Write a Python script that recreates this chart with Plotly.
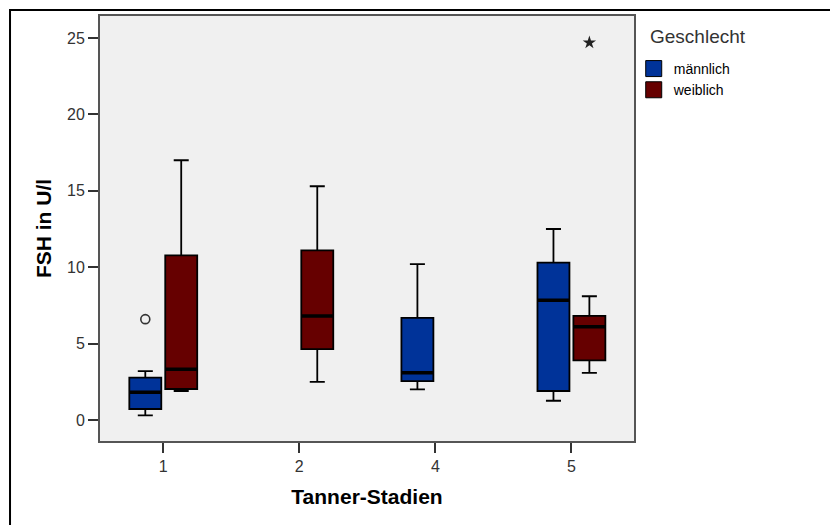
import plotly.graph_objects as go

# ---------------- data ----------------
stages = ["1", "2", "4", "5"]
sex_labels = ["männlich", "weiblich"]
legend_title = "Geschlecht"
x_title = "Tanner-Stadien"
y_title = "FSH in U/l"
y_ticks = [0, 5, 10, 15, 20, 25]

male_x = ["1", "4", "5"]
male_lower = [0.30, 2.00, 1.26]
male_q1 = [0.72, 2.55, 1.90]
male_median = [1.81, 3.09, 7.84]
male_q3 = [2.77, 6.69, 10.30]
male_upper = [3.20, 10.20, 12.50]

female_x = ["1", "2", "5"]
female_lower = [1.90, 2.50, 3.09]
female_q1 = [2.03, 4.64, 3.90]
female_median = [3.33, 6.80, 6.10]
female_q3 = [10.78, 11.10, 6.82]
female_upper = [17.00, 15.30, 8.10]

male_outlier_x = ["1"]
male_outlier_y = [6.6]
female_extreme_x = ["5"]
female_extreme_y = [24.7]

# ---------------- style ----------------
male_color = "#003399"
female_color = "#660000"
FONT = "Liberation Sans, Arial, sans-serif"
BOXGAP = 0.472
BOXGROUPGAP = 0.11
XRANGE = [-0.465, 3.46]
YRANGE = [-1.373, 26.44]

off = 0.25 * (1 - BOXGAP)
half_w = 0.25 * (1 - BOXGAP) * (1 - BOXGROUPGAP)
idx = {c: i for i, c in enumerate(stages)}


def pos(cats, sign):
    return [idx[c] + sign * off for c in cats]


def median_segments(cats, meds, sign):
    xs, ys = [], []
    for p, m in zip(pos(cats, sign), meds):
        xs += [p - half_w, p + half_w, None]
        ys += [m, m, None]
    return xs, ys


fig = go.Figure()

fig.add_trace(go.Box(
    x=male_x, q1=male_q1, median=male_median, q3=male_q3,
    lowerfence=male_lower, upperfence=male_upper,
    name=sex_labels[0], fillcolor=male_color,
    line=dict(color="black", width=1.8), whiskerwidth=0.47,
    boxpoints=False, showlegend=False, hoverinfo="skip",
))
fig.add_trace(go.Box(
    x=female_x, q1=female_q1, median=female_median, q3=female_q3,
    lowerfence=female_lower, upperfence=female_upper,
    name=sex_labels[1], fillcolor=female_color,
    line=dict(color="black", width=1.8), whiskerwidth=0.47,
    boxpoints=False, showlegend=False, hoverinfo="skip",
))

# thick median lines
for cats, meds, sign in [(male_x, male_median, -1), (female_x, female_median, 1)]:
    xs, ys = median_segments(cats, meds, sign)
    fig.add_trace(go.Scatter(x=xs, y=ys, mode="lines", xaxis="x2",
                             line=dict(color="black", width=3.5),
                             showlegend=False, hoverinfo="skip"))

# outliers
fig.add_trace(go.Scatter(
    x=pos(male_outlier_x, -1), y=male_outlier_y, mode="markers", xaxis="x2",
    marker=dict(symbol="circle-open", size=9, color="#333333", line=dict(width=1.6)),
    showlegend=False, hoverinfo="skip"))
fig.add_trace(go.Scatter(
    x=pos(female_extreme_x, 1), y=female_extreme_y, mode="markers", xaxis="x2",
    marker=dict(symbol="star", size=10, color="#222222", line=dict(width=0)),
    showlegend=False, hoverinfo="skip"))

# legend entries
for lab, col in zip(sex_labels, [male_color, female_color]):
    fig.add_trace(go.Scatter(
        x=[None], y=[None], mode="markers", xaxis="x2", name=lab,
        marker=dict(symbol="square", size=16, color=col, line=dict(color="black", width=1)),
    ))

fig.update_layout(
    width=830, height=525,
    margin=dict(l=100, r=196, t=16, b=84),
    paper_bgcolor="white", plot_bgcolor="#f0f0f0",
    boxmode="group", boxgap=BOXGAP, boxgroupgap=BOXGROUPGAP,
    font=dict(family=FONT, color="#222222"),
    xaxis=dict(
        type="category", categoryorder="array", categoryarray=stages,
        range=XRANGE, showgrid=False, zeroline=False,
        showline=True, mirror=True, linecolor="#555555", linewidth=2,
        ticks="outside", ticklen=10, tickwidth=2, tickcolor="#333333",
        tickfont=dict(size=16, color="#333333"),
        title=dict(text=x_title, font=dict(size=21, color="black", family=FONT, weight="bold"),
                   standoff=15),
    ),
    xaxis2=dict(overlaying="x", range=XRANGE, visible=False),
    yaxis=dict(
        range=YRANGE, tickvals=y_ticks, showgrid=False, zeroline=False,
        showline=True, mirror=True, linecolor="#555555", linewidth=2,
        ticks="outside", ticklen=10, tickwidth=2, tickcolor="#333333",
        tickfont=dict(size=16, color="#333333"),
        title=dict(text=y_title, font=dict(size=21, color="black", family=FONT, weight="bold"),
                   standoff=10),
    ),
    legend=dict(x=0.9995, y=0.913, xanchor="left", yanchor="top",
                font=dict(size=14, color="black"), bgcolor="rgba(0,0,0,0)",
                tracegroupgap=0),
    annotations=[dict(text=legend_title, xref="paper", yref="paper",
                      x=1.0262, y=0.952, xanchor="left", yanchor="middle",
                      showarrow=False, font=dict(size=19, color="#333333"))],
    shapes=[dict(type="rect", xref="paper", yref="paper",
                 x0=-0.1685, y0=-0.5, x1=2.0, y1=1.0141,
                 line=dict(color="black", width=2), fillcolor="rgba(0,0,0,0)")],
)

fig.write_html("out.html")
